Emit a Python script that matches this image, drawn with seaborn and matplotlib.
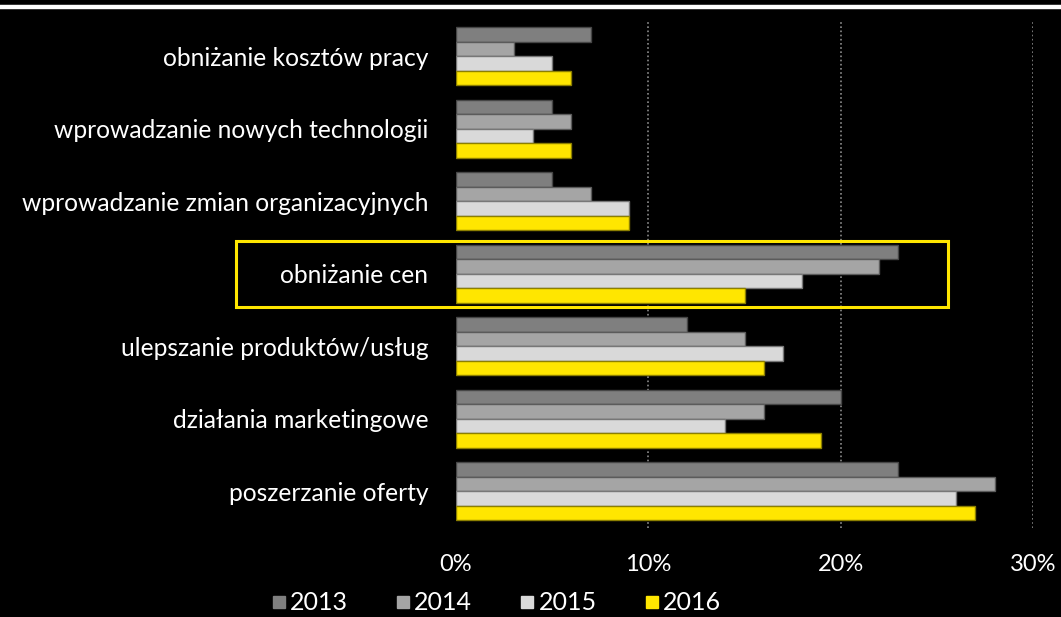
import pandas as pd
import matplotlib.pyplot as plt
import seaborn as sns
from matplotlib.patches import Rectangle
from matplotlib.lines import Line2D
from matplotlib.colors import to_rgb

# Data
categories = [
    "obniżanie kosztów pracy",
    "wprowadzanie nowych technologii",
    "wprowadzanie zmian organizacyjnych",
    "obniżanie cen",
    "ulepszanie produktów/usług",
    "działania marketingowe",
    "poszerzanie oferty",
]
years = ["2013", "2014", "2015", "2016"]
v2013 = [7, 5, 5, 23, 12, 20, 23]
v2014 = [3, 6, 7, 22, 15, 16, 28]
v2015 = [5, 4, 9, 18, 17, 14, 26]
v2016 = [6, 6, 9, 15, 16, 19, 27]
colors = ["#7f7f7f", "#a5a5a5", "#d9d9d9", "#ffe600"]

rows = []
for year, vals in zip(years, [v2013, v2014, v2015, v2016]):
    for cat, v in zip(categories, vals):
        rows.append({"kategoria": cat, "rok": year, "wartosc": v})
df = pd.DataFrame(rows)

sns.set_style("dark")
plt.rcParams["font.family"] = ["Lato", "DejaVu Sans"]

fig = plt.figure(figsize=(10.61, 6.17), dpi=100, facecolor="black")
ax = fig.add_axes([0.4298, 0.145, 0.5438, 0.8225])
ax.set_facecolor("black")

sns.barplot(
    data=df,
    x="wartosc",
    y="kategoria",
    hue="rok",
    order=categories,
    hue_order=years,
    palette=colors,
    saturation=1,
    width=0.8,
    orient="h",
    errorbar=None,
    legend=False,
    ax=ax,
)

# darker thin edges like the original
for patch in ax.patches:
    r, g, b = to_rgb(patch.get_facecolor())
    patch.set_edgecolor((r * 0.55, g * 0.55, b * 0.55))
    patch.set_linewidth(1.0)

ax.set_xlim(0, 30)
ax.set_ylim(len(categories) - 0.5, -0.5)
ax.set_xticks([0, 10, 20, 30])
ax.set_xticklabels(["0%", "10%", "20%", "30%"])
ax.set_xlabel("")
ax.set_ylabel("")

for x in [10, 20, 30]:
    ax.axvline(x, color="#8c8c8c", linestyle=(0, (1, 1.5)), linewidth=1.2, zorder=0)

ax.grid(False)
for s in ax.spines.values():
    s.set_visible(False)
ax.tick_params(axis="x", colors="white", labelsize=17, length=0, pad=19)
ax.tick_params(axis="y", colors="white", labelsize=17.7, length=0, pad=20)

# highlight box around "obniżanie cen"
fig.patches.append(Rectangle(
    (236 / 1061, 1 - 307 / 617), (948 - 236) / 1061, (307 - 241) / 617,
    transform=fig.transFigure, fill=False, edgecolor="#ffe600", linewidth=2.2
))

# white line at the top
fig.add_artist(Line2D([0, 1], [0.9887, 0.9887], color="white", linewidth=3.2,
                      transform=fig.transFigure))

# legend
handles = [Line2D([], [], marker="s", linestyle="none", markersize=8,
                  markerfacecolor=c, markeredgecolor=c) for c in colors]
fig.legend(handles, years, loc="center", bbox_to_anchor=(496 / 1061, 1 - 603 / 617),
           ncol=4, frameon=False, fontsize=18, labelcolor="white",
           handletextpad=0.15, columnspacing=1.9, handlelength=0.6,
           borderpad=0.1)

fig.savefig("out.png", dpi=100, facecolor="black")
